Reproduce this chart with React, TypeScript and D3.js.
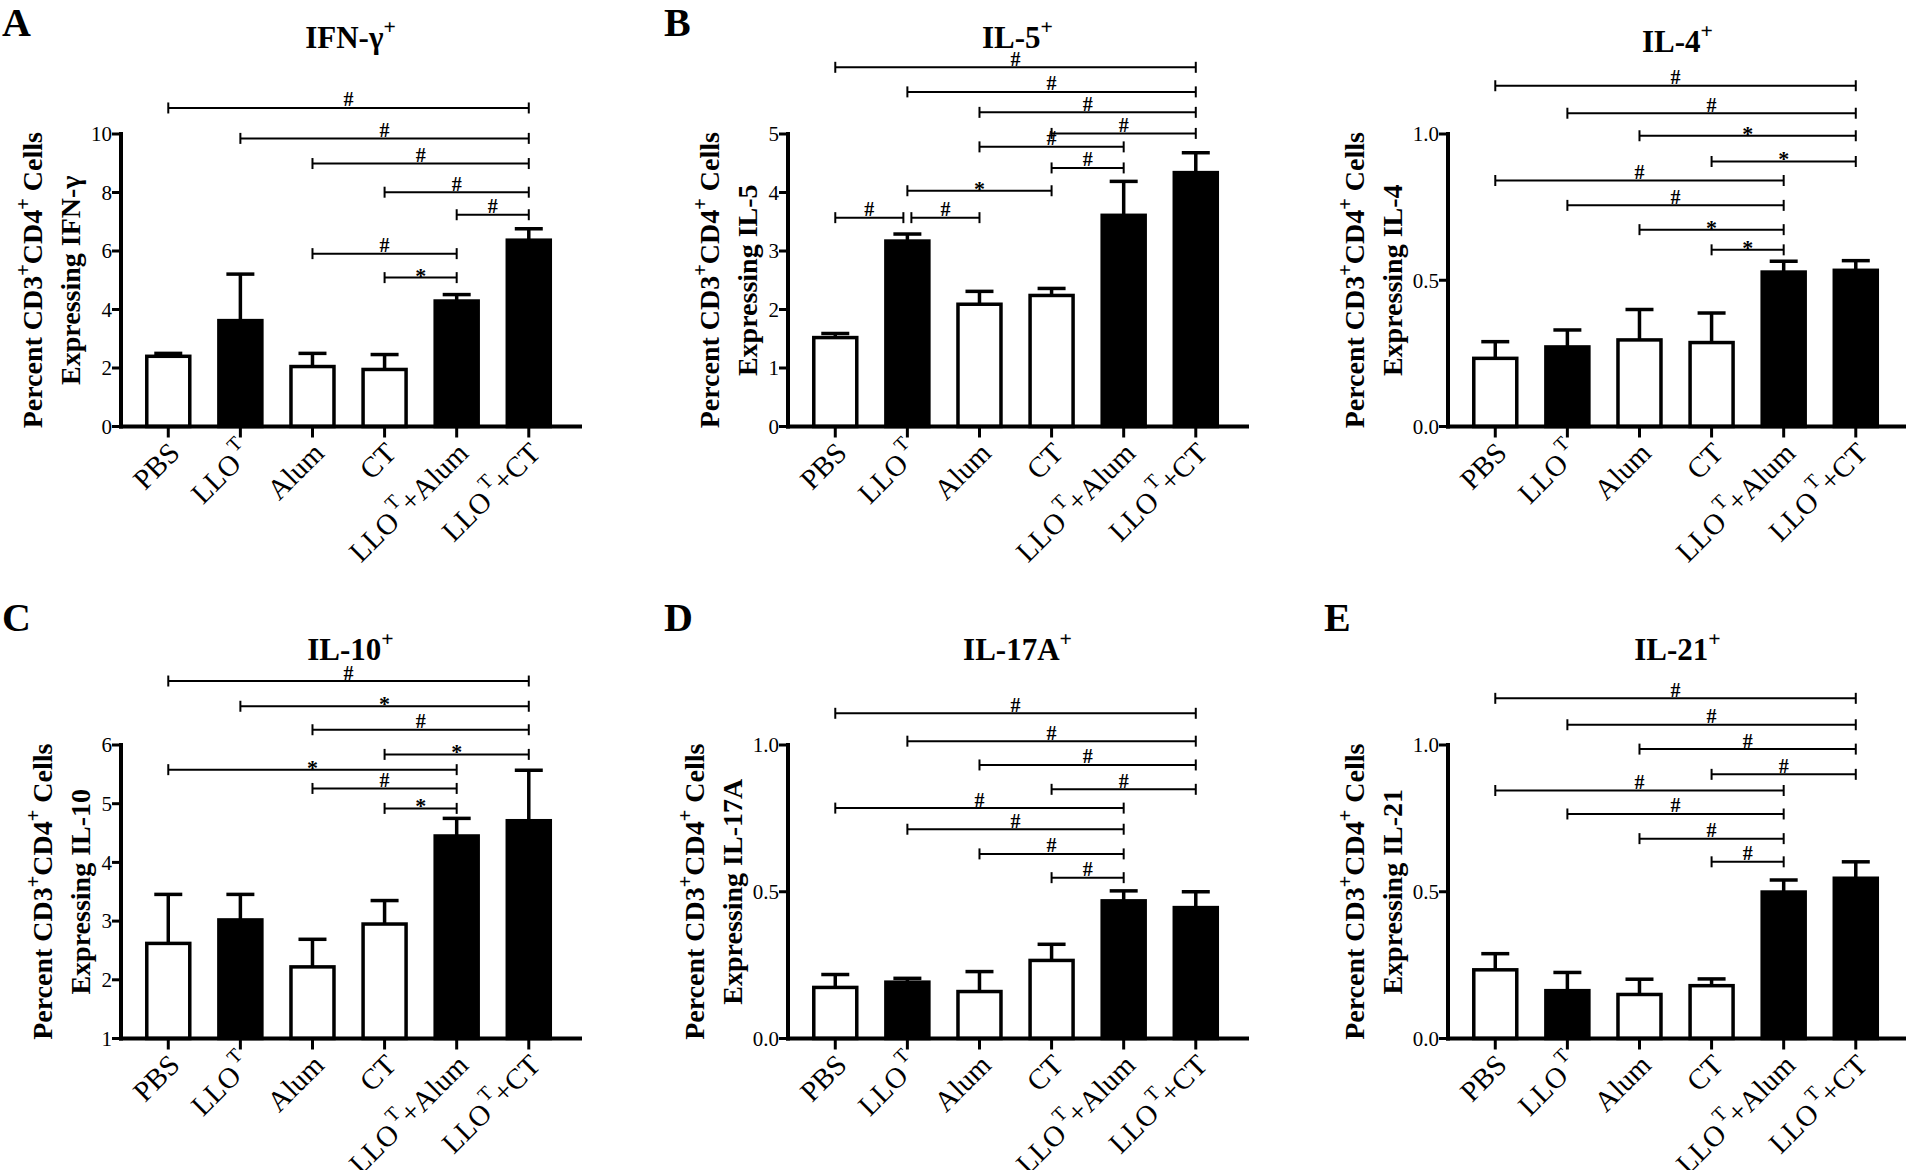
import React from 'react';
import * as d3 from 'd3';

// ---------- data ----------
const categories = ['PBS', 'LLO^T', 'Alum', 'CT', 'LLO^T+Alum', 'LLO^T+CT'];
const barFills = ['#ffffff', '#000000', '#ffffff', '#ffffff', '#000000', '#000000'];

const ifngMean = [2.40, 3.62, 2.05, 1.95, 4.29, 6.37];
const ifngSem = [0.10, 1.59, 0.45, 0.51, 0.22, 0.39];
const ifngTicks = [0, 2, 4, 6, 8, 10];
const ifngBrackets: [number, number, number, string][] = [
  [0, 5, 10.89, '#'], [1, 5, 9.85, '#'], [2, 5, 8.99, '#'], [3, 5, 8.01, '#'],
  [4, 5, 7.24, '#'], [2, 4, 5.91, '#'], [3, 4, 5.09, '*'],
];

const il5Mean = [1.52, 3.17, 2.09, 2.24, 3.61, 4.34];
const il5Sem = [0.07, 0.12, 0.22, 0.12, 0.58, 0.34];
const il5Ticks = [0, 1, 2, 3, 4, 5];
const il5Brackets: [number, number, number, string][] = [
  [0, 5, 6.14, '#'], [1, 5, 5.72, '#'], [2, 5, 5.37, '#'], [3, 5, 5.01, '#'],
  [2, 4, 4.78, '#'], [3, 4, 4.42, '#'], [1, 3, 4.03, '*'], [0, 1, 3.57, '#'], [1, 2, 3.57, '#'],
];

const il4Mean = [0.233, 0.272, 0.296, 0.287, 0.528, 0.534];
const il4Sem = [0.057, 0.058, 0.104, 0.101, 0.037, 0.033];
const il4Ticks = [0, 0.5, 1.0];
const il4Brackets: [number, number, number, string][] = [
  [0, 5, 1.165, '#'], [1, 5, 1.071, '#'], [2, 5, 0.994, '*'], [3, 5, 0.906, '*'],
  [0, 4, 0.841, '#'], [1, 4, 0.756, '#'], [2, 4, 0.673, '*'], [3, 4, 0.604, '*'],
];

const il10Mean = [2.62, 3.02, 2.22, 2.95, 4.45, 4.71];
const il10Sem = [0.835, 0.435, 0.47, 0.40, 0.30, 0.86];
const il10Ticks = [1, 2, 3, 4, 5, 6];
const il10Brackets: [number, number, number, string][] = [
  [0, 5, 7.09, '#'], [1, 5, 6.66, '*'], [2, 5, 6.26, '#'], [3, 5, 5.84, '*'],
  [0, 4, 5.58, '*'], [2, 4, 5.26, '#'], [3, 4, 4.92, '*'],
];

const il17Mean = [0.174, 0.192, 0.160, 0.266, 0.469, 0.446];
const il17Sem = [0.044, 0.013, 0.068, 0.055, 0.034, 0.054];
const il17Ticks = [0, 0.5, 1.0];
const il17Brackets: [number, number, number, string][] = [
  [0, 5, 1.108, '#'], [1, 5, 1.013, '#'], [2, 5, 0.932, '#'], [3, 5, 0.849, '#'],
  [0, 4, 0.785, '#'], [1, 4, 0.713, '#'], [2, 4, 0.629, '#'], [3, 4, 0.548, '#'],
];

const il21Mean = [0.234, 0.163, 0.150, 0.180, 0.499, 0.546];
const il21Sem = [0.055, 0.062, 0.052, 0.023, 0.041, 0.056];
const il21Ticks = [0, 0.5, 1.0];
const il21Brackets: [number, number, number, string][] = [
  [0, 5, 1.159, '#'], [1, 5, 1.069, '#'], [2, 5, 0.986, '#'], [3, 5, 0.900, '#'],
  [0, 4, 0.845, '#'], [1, 4, 0.765, '#'], [2, 4, 0.681, '#'], [3, 4, 0.602, '#'],
];

// ---------- layout ----------
const FONT = '"Liberation Serif", "Times New Roman", Times, serif';
const COLS = [121, 788, 1448];
const PLOT_W = 459;
const ROWS = [
  { top: 134, bottom: 426.5, letterY: 36, titleY: 48 },
  { top: 745, bottom: 1038.5, letterY: 631, titleY: 660 },
];

type Panel = {
  letter: string; col: number; row: number; title: string; ylab: string;
  domain: [number, number]; ticks: number[]; fmt: (d: number) => string;
  mean: number[]; sem: number[]; brackets: [number, number, number, string][];
  titleDy?: number;
};

const intFmt = d3.format('d');
const decFmt = d3.format('.1f');

const panels: Panel[] = [
  { letter: 'A', col: 0, row: 0, title: 'IFN-γ^+', ylab: 'Expressing IFN-γ', domain: [0, 10], ticks: ifngTicks, fmt: intFmt, mean: ifngMean, sem: ifngSem, brackets: ifngBrackets },
  { letter: 'B', col: 1, row: 0, title: 'IL-5^+', ylab: 'Expressing IL-5', domain: [0, 5], ticks: il5Ticks, fmt: intFmt, mean: il5Mean, sem: il5Sem, brackets: il5Brackets },
  { letter: '', col: 2, row: 0, title: 'IL-4^+', ylab: 'Expressing IL-4', domain: [0, 1], ticks: il4Ticks, fmt: decFmt, mean: il4Mean, sem: il4Sem, brackets: il4Brackets, titleDy: 4 },
  { letter: 'C', col: 0, row: 1, title: 'IL-10^+', ylab: 'Expressing IL-10', domain: [1, 6], ticks: il10Ticks, fmt: intFmt, mean: il10Mean, sem: il10Sem, brackets: il10Brackets },
  { letter: 'D', col: 1, row: 1, title: 'IL-17A^+', ylab: 'Expressing IL-17A', domain: [0, 1], ticks: il17Ticks, fmt: decFmt, mean: il17Mean, sem: il17Sem, brackets: il17Brackets },
  { letter: 'E', col: 2, row: 1, title: 'IL-21^+', ylab: 'Expressing IL-21', domain: [0, 1], ticks: il21Ticks, fmt: decFmt, mean: il21Mean, sem: il21Sem, brackets: il21Brackets },
];

function rich(str: string, fs: number, supScale = 0.65, supShift = 0.42, supGap = 0) {
  const parts: { t: string; sup: boolean }[] = [];
  let buf = '';
  for (let i = 0; i < str.length; i++) {
    if (str[i] === '^' && i + 1 < str.length) {
      if (buf) parts.push({ t: buf, sup: false });
      buf = '';
      parts.push({ t: str[i + 1], sup: true });
      i++;
    } else buf += str[i];
  }
  if (buf) parts.push({ t: buf, sup: false });
  let raised = false;
  return parts.map((p, k) => {
    let dy = 0;
    if (p.sup && !raised) { dy = -supShift * fs; raised = true; }
    else if (!p.sup && raised) { dy = supShift * fs; raised = false; }
    return (
      <tspan
        key={k}
        dy={dy || undefined}
        dx={p.sup && supGap ? supGap : undefined}
        fontSize={p.sup ? fs * supScale : fs}
        style={{ whiteSpace: 'pre' }}
      >
        {p.t}
      </tspan>
    );
  });
}

function tickLabelWidth(s: string) {
  let w = 0;
  for (const c of s) w += c === '.' ? 5 : 10;
  return w;
}

function PanelView({ p }: { p: Panel }) {
  const x0 = COLS[p.col];
  const row = ROWS[p.row];
  const { top, bottom } = row;
  const x = d3.scalePoint<string>().domain(categories).range([x0, x0 + PLOT_W]).padding(0.683).align(0.48);
  const y = d3.scaleLinear().domain(p.domain).range([bottom, top]);
  const base = p.domain[0];
  const barW = 43;
  const capHalf = 14;
  const maxLabW = d3.max(p.ticks, (t) => tickLabelWidth(p.fmt(t))) || 10;
  const off2 = 21 + maxLabW;
  const cy = (top + bottom) / 2;

  return (
    <g>
      {p.letter && (
        <text x={Math.max(2, x0 - 124)} y={row.letterY} fontFamily={FONT} fontWeight="bold" fontSize={40}>
          {p.letter}
        </text>
      )}
      <text x={x0 + PLOT_W / 2} y={row.titleY + (p.titleDy || 0)} textAnchor="middle" fontFamily={FONT} fontWeight="bold" fontSize={31}>
        {rich(p.title, 31, 0.7, 0.45)}
      </text>
      {/* y label */}
      <g transform={`translate(${x0 - off2},${cy}) rotate(-90)`} fontFamily={FONT} fontWeight="bold">
        <text x={0} y={-38.5} textAnchor="middle" fontSize={28}>
          {rich('Percent CD3^+CD4^+ Cells', 28, 0.72, 0.42)}
        </text>
        <text x={0} y={0} textAnchor="middle" fontSize={28}>
          {p.ylab}
        </text>
      </g>
      {/* bars */}
      {categories.map((c, i) => {
        const cx = x(c) as number;
        const yt = y(p.mean[i]);
        const ye = y(p.mean[i] + p.sem[i]);
        return (
          <g key={c}>
            <line x1={cx} x2={cx} y1={yt} y2={ye} stroke="#000" strokeWidth={3.5} />
            <line x1={cx - capHalf} x2={cx + capHalf} y1={ye} y2={ye} stroke="#000" strokeWidth={3.5} />
            <rect x={cx - barW / 2} y={yt} width={barW} height={y(base) - yt} fill={barFills[i]} stroke="#000" strokeWidth={3.5} />
          </g>
        );
      })}
      {/* axes */}
      <line x1={x0} x2={x0} y1={y(p.domain[1])} y2={bottom} stroke="#000" strokeWidth={4} strokeLinecap="square" />
      <line x1={x0} x2={x0 + PLOT_W} y1={bottom} y2={bottom} stroke="#000" strokeWidth={4} strokeLinecap="square" />
      {p.ticks.map((t) => (
        <g key={t}>
          <line x1={x0 - 9} x2={x0} y1={y(t)} y2={y(t)} stroke="#000" strokeWidth={3} />
          <text x={x0 - 9} y={y(t)} dy="0.35em" textAnchor="end" fontFamily={FONT} fontSize={21}>
            {p.fmt(t)}
          </text>
        </g>
      ))}
      {categories.map((c) => {
        const cx = x(c) as number;
        return (
          <g key={'xt' + c}>
            <line x1={cx} x2={cx} y1={bottom} y2={bottom + 11} stroke="#000" strokeWidth={3} />
            <text
              transform={`translate(${cx + 6},${bottom + 21}) rotate(-45)`}
              dy="0.35em"
              textAnchor="end"
              fontFamily={FONT}
              fontSize={29}
            >
              {rich(c, 29, 0.68, 0.5, 3)}
            </text>
          </g>
        );
      })}
      {/* significance brackets */}
      {p.brackets.map(([i, j, v, lab], k) => {
        let xa = x(categories[i]) as number;
        let xb = x(categories[j]) as number;
        const sharesLeft = p.brackets.some((o, m) => m !== k && o[2] === v && o[1] === i);
        const sharesRight = p.brackets.some((o, m) => m !== k && o[2] === v && o[0] === j);
        if (sharesLeft) xa += 4;
        if (sharesRight) xb -= 4;
        const yy = y(v);
        return (
          <g key={'b' + k}>
            <line x1={xa} x2={xb} y1={yy} y2={yy} stroke="#000" strokeWidth={2} />
            <line x1={xa} x2={xa} y1={yy - 5.5} y2={yy + 5.5} stroke="#000" strokeWidth={2} />
            <line x1={xb} x2={xb} y1={yy - 5.5} y2={yy + 5.5} stroke="#000" strokeWidth={2} />
            <text
              x={(xa + xb) / 2}
              y={lab === '*' ? yy + 5 : yy - 1.5}
              textAnchor="middle"
              fontFamily={FONT}
              fontWeight="bold"
              fontSize={lab === '*' ? 22 : 20}
            >
              {lab}
            </text>
          </g>
        );
      })}
    </g>
  );
}

export default function App() {
  return (
    <>
      <style>{`html,body{margin:0;padding:0;background:#fff}`}</style>
      <svg width={1906} height={1170} viewBox="0 0 1906 1170" style={{ display: 'block', background: '#fff' }}>
        <rect x={0} y={0} width={1906} height={1170} fill="#fff" />
        {panels.map((p) => (
          <PanelView key={p.title} p={p} />
        ))}
      </svg>
    </>
  );
}
